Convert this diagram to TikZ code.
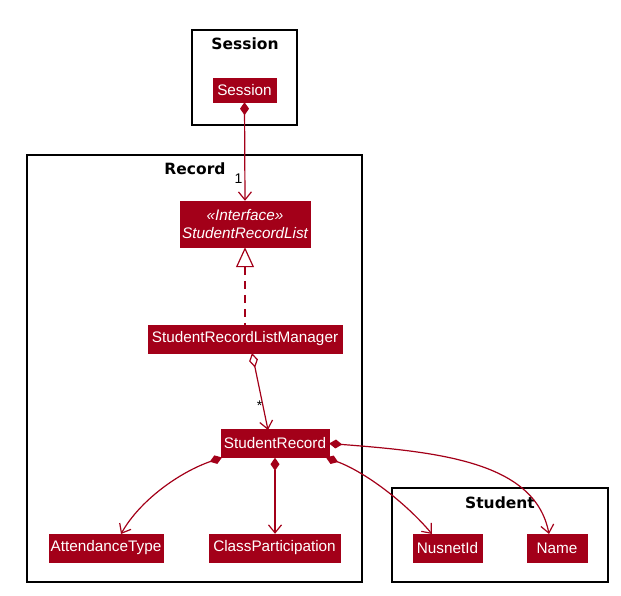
\documentclass[tikz,border=0pt]{standalone}
\usepackage{fontspec}
\setmainfont{Liberation Sans}
\newfontfamily\titlefont{DejaVu Sans}
\usetikzlibrary{arrows.meta}
\definecolor{umlred}{RGB}{163,0,25}
\tikzset{
  pkg/.style={draw=black, line width=1.4pt, fill=none},
  pkgtitle/.style={font=\titlefont\bfseries\fontsize{15.5}{18}\selectfont, inner sep=0pt},
  cls/.style={fill=umlred, draw=umlred, text=white, inner sep=0pt, minimum height=28pt,
              font=\fontsize{15.3}{18}\selectfont},
  rel/.style={draw=umlred, line width=1.2pt},
  mult/.style={font=\fontsize{14}{16}\selectfont, inner sep=0pt}
}
\begin{document}
\begin{tikzpicture}[x=1pt,y=-1pt]
\useasboundingbox (0,0) rectangle (621,596);
% packages
\draw[pkg] (192,30) rectangle (297,125);
\node[pkgtitle] (tsession) at (245,44) {Session};
\draw[pkg] (27,155) rectangle (362,582);
\node[pkgtitle] (trecord) at (195,169) {Record};
\draw[pkg] (392,488) rectangle (608,582);
\node[pkgtitle] (tstudent) at (500,503) {Student};
% classes
\node[cls, minimum width=63pt, minimum height=24pt] (session) at (244.5,90) {Session};
\node[cls, minimum width=130pt, minimum height=46pt, align=center, font=\itshape\fontsize{15.3}{18}\selectfont] (srl) at (245,224) {«Interface»\\StudentRecordList};
\node[cls, minimum width=194pt] (srlm) at (245,339) {StudentRecordListManager};
\node[cls, minimum width=108pt] (sr) at (275,443.5) {StudentRecord};
\node[cls, minimum width=114pt] (att) at (106,548) {AttendanceType};
\node[cls, minimum width=131pt] (cp) at (274.5,548) {ClassParticipation};
\node[cls, minimum width=69pt] (nid) at (447.5,548) {NusnetId};
\node[cls, minimum width=60pt] (name) at (557,548) {Name};
% relations
\draw[rel, {Diamond[length=13pt,width=9pt]}-{Straight Barb[length=8pt,width=13pt,line width=1.2pt]}]
  (session.south) -- (srl.north) node[mult, pos=0.78, left=2pt] (m1) {1};
\draw[rel, dash pattern=on 8pt off 6pt, {Triangle[open,length=20pt,width=18pt,fill=white]}-]
  (srl.south) -- (srlm.north);
\draw[rel, {Diamond[open,length=15pt,width=9pt,fill=white]}-{Straight Barb[length=8pt,width=13pt,line width=1.2pt]}]
  (252,353) -- (268,430) node[mult, pos=0.68, left=0pt] (m2) {*};
\draw[rel, {Diamond[length=13pt,width=9pt]}-{Straight Barb[length=8pt,width=13pt,line width=1.2pt]}]
  (222,457.5) .. controls (180,472) and (140,500) .. (121,534);
\draw[rel, {Diamond[length=13pt,width=9pt]}-{Straight Barb[length=8pt,width=13pt,line width=1.2pt]}]
  (sr.south) -- (cp.north -| sr.south);
\draw[rel, {Diamond[length=13pt,width=9pt]}-{Straight Barb[length=8pt,width=13pt,line width=1.2pt]}]
  (326,457.5) .. controls (365,472) and (405,502) .. (432,534);
\draw[rel, {Diamond[length=13pt,width=9pt]}-{Straight Barb[length=8pt,width=13pt,line width=1.2pt]}]
  (sr.east) .. controls (440,452) and (535,462) .. (549,534);
\end{tikzpicture}
\end{document}
